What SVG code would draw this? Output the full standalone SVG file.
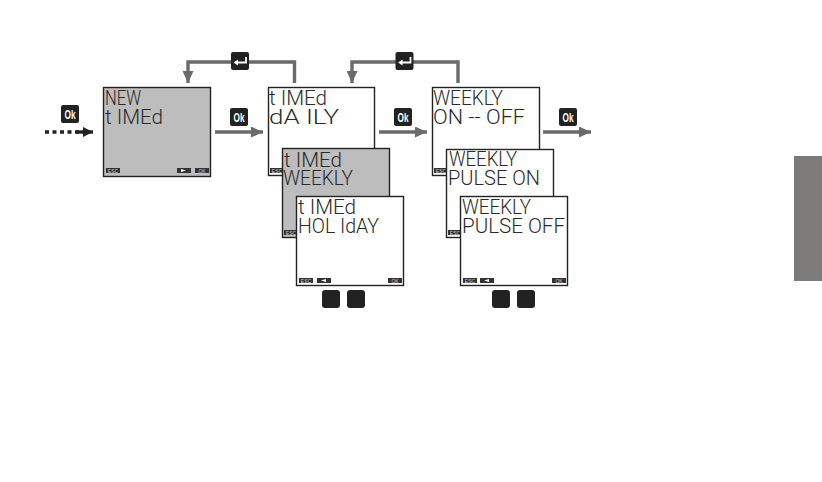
<svg xmlns="http://www.w3.org/2000/svg" width="822" height="482" viewBox="0 0 822 482">
<style>
.lcd{stroke:#222;stroke-width:1.4;fill:#fff}
.gr{fill:#bdbdbd}
.t{font-family:Roboto,"Liberation Sans",sans-serif;font-weight:300;font-size:21px;fill:#2a2a2a}
.sb{fill:#333}
.sl{font-family:"Liberation Sans",Arial,sans-serif;font-size:5px;fill:#ccc;text-anchor:middle}
.key{fill:#222}
.ok{font-family:"Liberation Sans",Arial,sans-serif;font-size:13px;font-weight:700;fill:#fff;text-anchor:middle}
.conn{fill:none;stroke:#6a6a6a;stroke-width:3.4}
.ent{fill:none;stroke:#fff;stroke-width:1.8}
</style>
<defs>
<marker id="ah" markerUnits="userSpaceOnUse" markerWidth="12" markerHeight="11" refX="12" refY="5.500" orient="auto"><path d="M0 0L12 5.500L0 11Z" fill="#6a6a6a"/></marker>
<marker id="ahd" markerUnits="userSpaceOnUse" markerWidth="10" markerHeight="10" refX="10" refY="5" orient="auto"><path d="M0 0L10 5L0 10Z" fill="#222"/></marker>
<g id="okk"><rect width="18" height="18" rx="2" class="key"/><text x="9" y="13.500" class="ok" textLength="11" lengthAdjust="spacingAndGlyphs">Ok</text></g>
<g id="entk"><rect width="18" height="18" rx="2" class="key"/><path class="ent" d="M15 5V10.500H6"/><path d="M2.500 10.500L7 7.500V13.500Z" fill="#fff"/></g>
</defs>
<rect width="822" height="482" fill="#fff"/>
<rect id="side-band" x="794" y="156" width="28" height="125" fill="#7d7b7a"/>

<g id="connectors">
<path class="conn" d="M294.500 83V62H188V83" marker-end="url(#ah)"/>
<path class="conn" d="M458 83V62H352V83" marker-end="url(#ah)"/>
<path d="M45 132H83" fill="none" stroke="#222" stroke-width="3.400" stroke-dasharray="4 3.500"/>
<path d="M76 132H93" fill="none" stroke="#222" stroke-width="3.400" marker-end="url(#ahd)"/>
<path class="conn" d="M215 132H263" marker-end="url(#ah)"/>
<path class="conn" d="M379 132H427" marker-end="url(#ah)"/>
<path class="conn" d="M543 132H591" marker-end="url(#ah)"/>
</g>

<g id="key-ok-1"><use href="#okk" x="61" y="105"/></g>
<g id="key-ok-2"><use href="#okk" x="230" y="108"/></g>
<g id="key-ok-3"><use href="#okk" x="394" y="108"/></g>
<g id="key-ok-4"><use href="#okk" x="559" y="108"/></g>
<g id="key-enter-1"><use href="#entk" x="231" y="52"/></g>
<g id="key-enter-2"><use href="#entk" x="395.500" y="52"/></g>

<g id="lcd-new-timed">
<rect class="lcd gr" x="103.500" y="87.500" width="107" height="89"/>
<text class="t"><tspan x="105" y="104.500" textLength="36" lengthAdjust="spacingAndGlyphs">NEW</tspan><tspan x="105" y="123.500" textLength="58" lengthAdjust="spacingAndGlyphs">t IMEd</tspan></text>
<rect class="sb" x="106" y="168" width="14" height="5"/><text class="sl" x="113" y="172.800">ESC</text>
<rect class="sb" x="177" y="168" width="14" height="5"/><path d="M181 169V172L186 170.500Z" fill="#fff"/>
<rect class="sb" x="195" y="168" width="14" height="5"/><text class="sl" x="202" y="172.800">OK</text>
</g>

<g id="lcd-timed-daily">
<rect class="lcd" x="268.500" y="87.500" width="106" height="88"/>
<text class="t"><tspan x="269" y="104.500" textLength="58" lengthAdjust="spacingAndGlyphs">t IMEd</tspan><tspan x="269" y="123.500" textLength="70" lengthAdjust="spacingAndGlyphs">dA ILY</tspan></text>
<rect class="sb" x="270" y="168" width="14" height="5"/><text class="sl" x="277" y="172.800">ESC</text>
</g>

<g id="lcd-timed-weekly">
<rect class="lcd gr" x="282.500" y="148.500" width="107" height="89"/>
<text class="t"><tspan x="284" y="167" textLength="58" lengthAdjust="spacingAndGlyphs">t IMEd</tspan><tspan x="283" y="185" textLength="70" lengthAdjust="spacingAndGlyphs">WEEKLY</tspan></text>
<rect class="sb" x="284" y="230" width="14" height="5"/><text class="sl" x="291" y="234.800">ESC</text>
</g>

<g id="lcd-timed-holiday">
<rect class="lcd" x="296.500" y="196.500" width="107" height="89"/>
<text class="t"><tspan x="298" y="214" textLength="58" lengthAdjust="spacingAndGlyphs">t IMEd</tspan><tspan x="298" y="233" textLength="81" lengthAdjust="spacingAndGlyphs">HOL IdAY</tspan></text>
<rect class="sb" x="299" y="278" width="14" height="5"/><text class="sl" x="306" y="282.800">ESC</text>
<rect class="sb" x="317" y="278" width="14" height="5"/><path d="M326 279V282L321 280.500Z" fill="#fff"/>
<rect class="sb" x="388" y="278" width="14" height="5"/><text class="sl" x="395" y="282.800">OK</text>
</g>

<g id="keys-blank-1"><rect class="key" x="322" y="290" width="18" height="18" rx="3"/><rect class="key" x="347" y="290" width="18" height="18" rx="3"/></g>

<g id="lcd-weekly-onoff">
<rect class="lcd" x="432.500" y="87.500" width="107" height="88"/>
<text class="t"><tspan x="433" y="105" textLength="70" lengthAdjust="spacingAndGlyphs">WEEKLY</tspan><tspan x="433" y="123.500" textLength="92" lengthAdjust="spacingAndGlyphs">ON -- OFF</tspan></text>
<rect class="sb" x="434" y="168" width="14" height="5"/><text class="sl" x="441" y="172.800">ESC</text>
</g>

<g id="lcd-weekly-pulse-on">
<rect class="lcd" x="446.500" y="149.500" width="107" height="88"/>
<text class="t"><tspan x="449" y="166" textLength="68" lengthAdjust="spacingAndGlyphs">WEEKLY</tspan><tspan x="448" y="185" textLength="92" lengthAdjust="spacingAndGlyphs">PULSE ON</tspan></text>
<rect class="sb" x="448" y="230" width="14" height="5"/><text class="sl" x="455" y="234.800">ESC</text>
</g>

<g id="lcd-weekly-pulse-off">
<rect class="lcd" x="460.500" y="196.500" width="107" height="89"/>
<text class="t"><tspan x="462" y="214" textLength="69" lengthAdjust="spacingAndGlyphs">WEEKLY</tspan><tspan x="462" y="233" textLength="103" lengthAdjust="spacingAndGlyphs">PULSE OFF</tspan></text>
<rect class="sb" x="463" y="278" width="14" height="5"/><text class="sl" x="470" y="282.800">ESC</text>
<rect class="sb" x="480" y="278" width="14" height="5"/><path d="M489 279V282L484 280.500Z" fill="#fff"/>
<rect class="sb" x="552" y="278" width="14" height="5"/><text class="sl" x="559" y="282.800">OK</text>
</g>

<g id="keys-blank-2"><rect class="key" x="492" y="290" width="18" height="18" rx="3"/><rect class="key" x="517" y="290" width="18" height="18" rx="3"/></g>
</svg>
